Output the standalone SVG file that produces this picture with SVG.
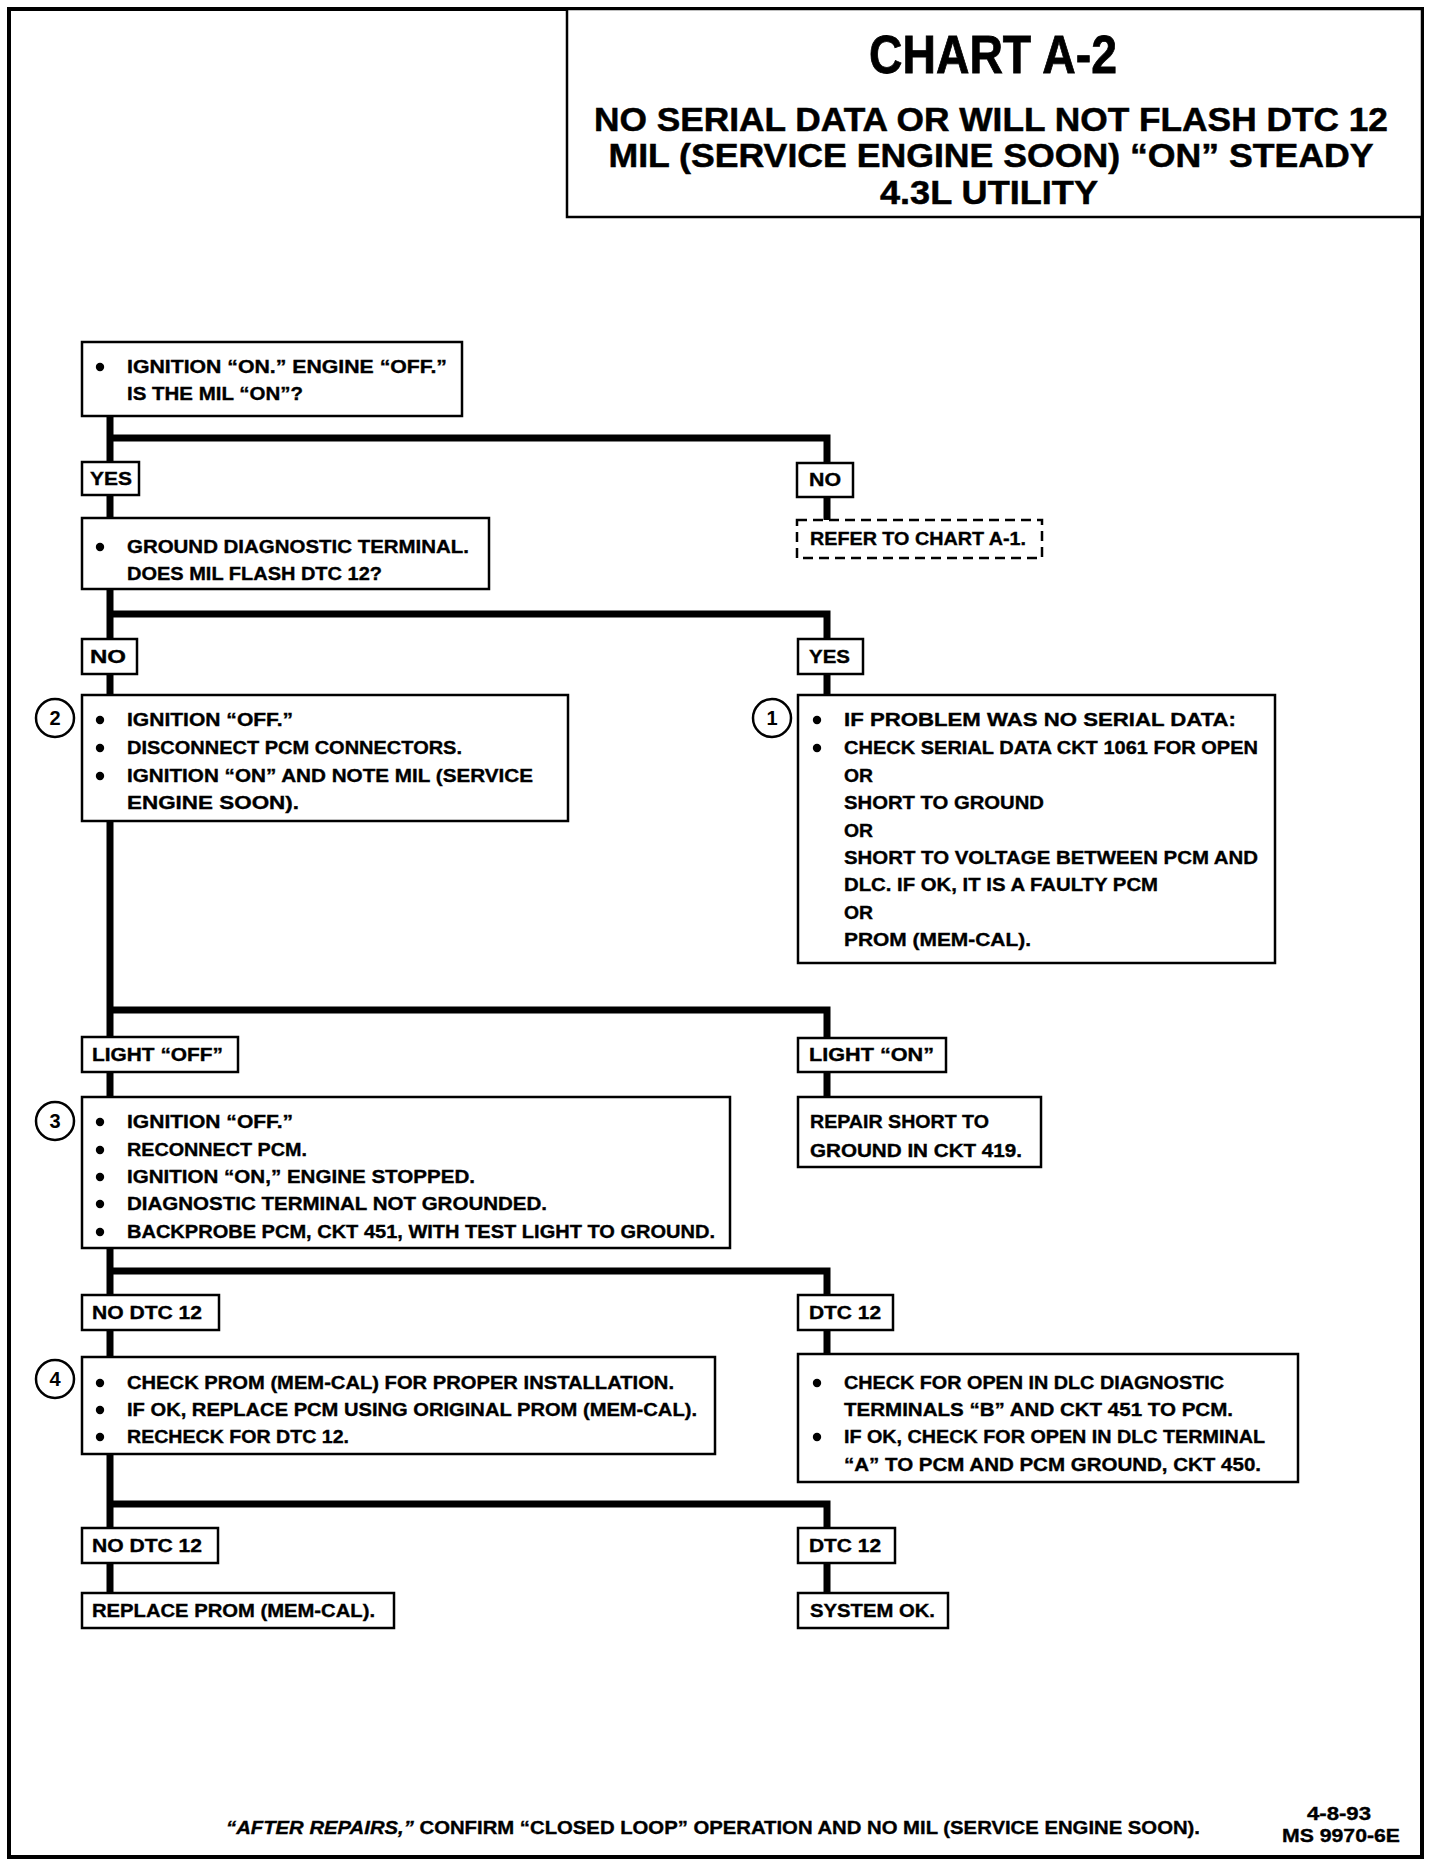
<svg xmlns="http://www.w3.org/2000/svg" width="1440" height="1866" viewBox="0 0 1440 1866">
<style>
.frame{fill:none;stroke:#000;stroke-width:4}
.box{fill:#fff;stroke:#000;stroke-width:2.5}
.dash{stroke-dasharray:10 6}
.wire{fill:none;stroke:#000;stroke-width:7;stroke-linejoin:miter}
.t{font-family:"Liberation Sans",Arial,sans-serif;font-weight:bold;font-size:18px;fill:#000;stroke:#000;stroke-width:0.35}
.h1{font-family:"Liberation Sans",Arial,sans-serif;font-weight:bold;font-size:54px;fill:#000;stroke:#000;stroke-width:0.8}
.h2{font-family:"Liberation Sans",Arial,sans-serif;font-weight:bold;font-size:33px;fill:#000;stroke:#000;stroke-width:0.5}
.num{font-family:"Liberation Sans",Arial,sans-serif;font-weight:bold;font-size:20px;fill:#000;text-anchor:middle}
.ring{fill:#fff;stroke:#000;stroke-width:2.5}
.dot{fill:#000}
</style>
<rect x="0" y="0" width="1440" height="1866" fill="#fff"/>
<rect class="frame" x="9" y="9" width="1413" height="1848"/>

<g id="title">
<rect class="box" x="567" y="9" width="855" height="208"/>
<text class="h1" x="993" y="73" text-anchor="middle" textLength="248" lengthAdjust="spacingAndGlyphs">CHART A-2</text>
<text class="h2" x="991" y="131" text-anchor="middle" textLength="794" lengthAdjust="spacingAndGlyphs">NO SERIAL DATA OR WILL NOT FLASH DTC 12</text>
<text class="h2" x="991" y="167" text-anchor="middle" textLength="765" lengthAdjust="spacingAndGlyphs">MIL (SERVICE ENGINE SOON) “ON” STEADY</text>
<text class="h2" x="989" y="204" text-anchor="middle" textLength="218" lengthAdjust="spacingAndGlyphs">4.3L UTILITY</text>
</g>

<g id="connectors">
<path class="wire" d="M110 416 V1593"/>
<path class="wire" d="M110 438 H827 V520"/>
<path class="wire" d="M110 614 H827 V695"/>
<path class="wire" d="M110 1010 H827 V1097"/>
<path class="wire" d="M110 1271 H827 V1354"/>
<path class="wire" d="M110 1504 H827 V1593"/>
</g>

<g id="n-mil-on">
<rect class="box" x="82" y="342" width="380" height="74"/>
<circle class="dot" cx="100" cy="367" r="4.2"/>
<text class="t" x="127" y="373" textLength="320" lengthAdjust="spacingAndGlyphs">IGNITION “ON.”  ENGINE “OFF.”</text>
<text class="t" x="127" y="400" textLength="176" lengthAdjust="spacingAndGlyphs">IS THE MIL “ON”?</text>
</g>

<g id="l-yes1">
<rect class="box" x="82" y="462" width="57" height="33"/>
<text class="t" x="90" y="485" textLength="42" lengthAdjust="spacingAndGlyphs">YES</text>
</g>

<g id="l-no1">
<rect class="box" x="797" y="463" width="56" height="34"/>
<text class="t" x="809" y="486" textLength="32" lengthAdjust="spacingAndGlyphs">NO</text>
</g>

<g id="n-refer">
<rect class="box dash" x="797" y="520" width="245" height="38"/>
<text class="t" x="810" y="545" textLength="216" lengthAdjust="spacingAndGlyphs">REFER TO CHART A-1.</text>
</g>

<g id="n-ground">
<rect class="box" x="82" y="518" width="407" height="71"/>
<circle class="dot" cx="100" cy="547" r="4.2"/>
<text class="t" x="127" y="553" textLength="342" lengthAdjust="spacingAndGlyphs">GROUND DIAGNOSTIC TERMINAL.</text>
<text class="t" x="127" y="580" textLength="255" lengthAdjust="spacingAndGlyphs">DOES MIL FLASH DTC 12?</text>
</g>

<g id="l-no2">
<rect class="box" x="82" y="639" width="55" height="35"/>
<text class="t" x="90" y="663" textLength="36" lengthAdjust="spacingAndGlyphs">NO</text>
</g>

<g id="l-yes2">
<rect class="box" x="798" y="639" width="65" height="35"/>
<text class="t" x="809" y="663" textLength="41" lengthAdjust="spacingAndGlyphs">YES</text>
</g>

<g id="n-step2">
<circle class="ring" cx="55" cy="718" r="19"/>
<text class="num" x="55" y="725">2</text>
<rect class="box" x="82" y="695" width="486" height="126"/>
<circle class="dot" cx="100" cy="720" r="4.2"/>
<circle class="dot" cx="100" cy="748" r="4.2"/>
<circle class="dot" cx="100" cy="776" r="4.2"/>
<text class="t" x="127" y="726" textLength="166" lengthAdjust="spacingAndGlyphs">IGNITION “OFF.”</text>
<text class="t" x="127" y="754" textLength="335" lengthAdjust="spacingAndGlyphs">DISCONNECT PCM CONNECTORS.</text>
<text class="t" x="127" y="782" textLength="406" lengthAdjust="spacingAndGlyphs">IGNITION “ON” AND NOTE MIL (SERVICE</text>
<text class="t" x="127" y="809" textLength="172" lengthAdjust="spacingAndGlyphs">ENGINE SOON).</text>
</g>

<g id="n-step1">
<circle class="ring" cx="772" cy="718" r="19"/>
<text class="num" x="772" y="725">1</text>
<rect class="box" x="798" y="695" width="477" height="268"/>
<circle class="dot" cx="817" cy="720" r="4.2"/>
<circle class="dot" cx="817" cy="748" r="4.2"/>
<text class="t" x="844" y="726" textLength="392" lengthAdjust="spacingAndGlyphs">IF PROBLEM WAS NO SERIAL DATA:</text>
<text class="t" x="844" y="754" textLength="414" lengthAdjust="spacingAndGlyphs">CHECK SERIAL DATA CKT 1061 FOR OPEN</text>
<text class="t" x="844" y="782" textLength="29" lengthAdjust="spacingAndGlyphs">OR</text>
<text class="t" x="844" y="809" textLength="200" lengthAdjust="spacingAndGlyphs">SHORT TO GROUND</text>
<text class="t" x="844" y="837" textLength="29" lengthAdjust="spacingAndGlyphs">OR</text>
<text class="t" x="844" y="864" textLength="414" lengthAdjust="spacingAndGlyphs">SHORT TO VOLTAGE BETWEEN PCM AND</text>
<text class="t" x="844" y="891" textLength="314" lengthAdjust="spacingAndGlyphs">DLC.  IF OK, IT IS A FAULTY PCM</text>
<text class="t" x="844" y="919" textLength="29" lengthAdjust="spacingAndGlyphs">OR</text>
<text class="t" x="844" y="946" textLength="187" lengthAdjust="spacingAndGlyphs">PROM (MEM-CAL).</text>
</g>

<g id="l-light-off">
<rect class="box" x="82" y="1037" width="156" height="35"/>
<text class="t" x="92" y="1061" textLength="131" lengthAdjust="spacingAndGlyphs">LIGHT “OFF”</text>
</g>

<g id="l-light-on">
<rect class="box" x="798" y="1038" width="148" height="34"/>
<text class="t" x="809" y="1061" textLength="125" lengthAdjust="spacingAndGlyphs">LIGHT “ON”</text>
</g>

<g id="n-step3">
<circle class="ring" cx="55" cy="1121" r="19"/>
<text class="num" x="55" y="1128">3</text>
<rect class="box" x="82" y="1097" width="648" height="151"/>
<circle class="dot" cx="100" cy="1122" r="4.2"/>
<circle class="dot" cx="100" cy="1150" r="4.2"/>
<circle class="dot" cx="100" cy="1177" r="4.2"/>
<circle class="dot" cx="100" cy="1204" r="4.2"/>
<circle class="dot" cx="100" cy="1232" r="4.2"/>
<text class="t" x="127" y="1128" textLength="166" lengthAdjust="spacingAndGlyphs">IGNITION “OFF.”</text>
<text class="t" x="127" y="1156" textLength="180" lengthAdjust="spacingAndGlyphs">RECONNECT PCM.</text>
<text class="t" x="127" y="1183" textLength="348" lengthAdjust="spacingAndGlyphs">IGNITION “ON,” ENGINE STOPPED.</text>
<text class="t" x="127" y="1210" textLength="420" lengthAdjust="spacingAndGlyphs">DIAGNOSTIC TERMINAL NOT GROUNDED.</text>
<text class="t" x="127" y="1238" textLength="588" lengthAdjust="spacingAndGlyphs">BACKPROBE PCM, CKT 451, WITH TEST LIGHT TO GROUND.</text>
</g>

<g id="n-repair">
<rect class="box" x="798" y="1097" width="243" height="70"/>
<text class="t" x="810" y="1128" textLength="179" lengthAdjust="spacingAndGlyphs">REPAIR SHORT TO</text>
<text class="t" x="810" y="1157" textLength="212" lengthAdjust="spacingAndGlyphs">GROUND IN CKT 419.</text>
</g>

<g id="l-nodtc1">
<rect class="box" x="82" y="1295" width="137" height="35"/>
<text class="t" x="92" y="1319" textLength="110" lengthAdjust="spacingAndGlyphs">NO DTC 12</text>
</g>

<g id="l-dtc1">
<rect class="box" x="798" y="1295" width="95" height="35"/>
<text class="t" x="809" y="1319" textLength="72" lengthAdjust="spacingAndGlyphs">DTC 12</text>
</g>

<g id="n-step4">
<circle class="ring" cx="55" cy="1379" r="19"/>
<text class="num" x="55" y="1386">4</text>
<rect class="box" x="82" y="1357" width="633" height="97"/>
<circle class="dot" cx="100" cy="1383" r="4.2"/>
<circle class="dot" cx="100" cy="1410" r="4.2"/>
<circle class="dot" cx="100" cy="1437" r="4.2"/>
<text class="t" x="127" y="1389" textLength="547" lengthAdjust="spacingAndGlyphs">CHECK PROM (MEM-CAL) FOR PROPER INSTALLATION.</text>
<text class="t" x="127" y="1416" textLength="570" lengthAdjust="spacingAndGlyphs">IF OK, REPLACE PCM USING ORIGINAL PROM (MEM-CAL).</text>
<text class="t" x="127" y="1443" textLength="222" lengthAdjust="spacingAndGlyphs">RECHECK FOR DTC 12.</text>
</g>

<g id="n-check-open">
<rect class="box" x="798" y="1354" width="500" height="128"/>
<circle class="dot" cx="817" cy="1383" r="4.2"/>
<circle class="dot" cx="817" cy="1437" r="4.2"/>
<text class="t" x="844" y="1389" textLength="380" lengthAdjust="spacingAndGlyphs">CHECK FOR OPEN IN DLC DIAGNOSTIC</text>
<text class="t" x="844" y="1416" textLength="389" lengthAdjust="spacingAndGlyphs">TERMINALS “B” AND CKT 451 TO PCM.</text>
<text class="t" x="844" y="1443" textLength="421" lengthAdjust="spacingAndGlyphs">IF OK, CHECK FOR OPEN IN DLC TERMINAL</text>
<text class="t" x="844" y="1471" textLength="417" lengthAdjust="spacingAndGlyphs">“A” TO PCM AND PCM GROUND, CKT 450.</text>
</g>

<g id="l-nodtc2">
<rect class="box" x="82" y="1528" width="136" height="35"/>
<text class="t" x="92" y="1552" textLength="110" lengthAdjust="spacingAndGlyphs">NO DTC 12</text>
</g>

<g id="l-dtc2">
<rect class="box" x="798" y="1528" width="97" height="35"/>
<text class="t" x="809" y="1552" textLength="72" lengthAdjust="spacingAndGlyphs">DTC 12</text>
</g>

<g id="n-replace-prom">
<rect class="box" x="82" y="1593" width="312" height="35"/>
<text class="t" x="92" y="1617" textLength="283" lengthAdjust="spacingAndGlyphs">REPLACE PROM (MEM-CAL).</text>
</g>

<g id="n-system-ok">
<rect class="box" x="798" y="1593" width="150" height="35"/>
<text class="t" x="810" y="1617" textLength="125" lengthAdjust="spacingAndGlyphs">SYSTEM OK.</text>
</g>

<g id="footer">
<text class="t" x="226" y="1834" textLength="974" lengthAdjust="spacingAndGlyphs"><tspan font-style="italic">“AFTER REPAIRS,”</tspan> CONFIRM “CLOSED LOOP” OPERATION AND NO MIL (SERVICE ENGINE SOON).</text>
<text class="t" x="1339" y="1820" text-anchor="middle" textLength="64" lengthAdjust="spacingAndGlyphs">4-8-93</text>
<text class="t" x="1341" y="1842" text-anchor="middle" textLength="118" lengthAdjust="spacingAndGlyphs">MS 9970-6E</text>
</g>
</svg>
